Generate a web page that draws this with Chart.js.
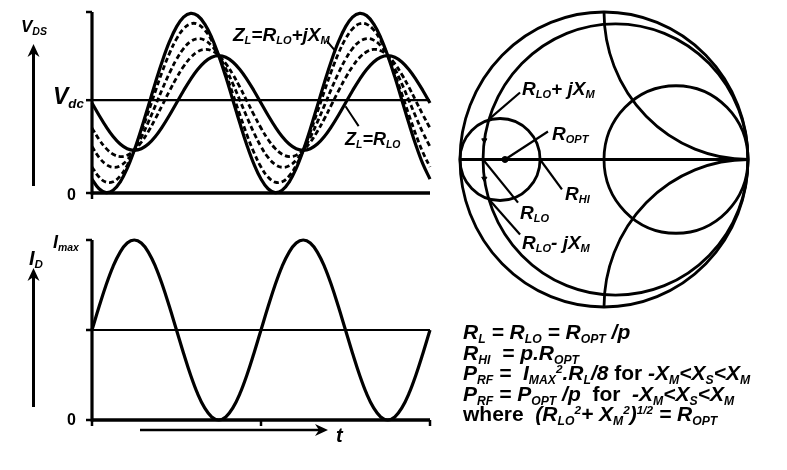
<!DOCTYPE html>
<html><head><meta charset="utf-8">
<script src="https://cdn.jsdelivr.net/npm/chart.js@4.4.1/dist/chart.umd.min.js"></script>
<style>
html,body{margin:0;padding:0;background:#fff;}
#wrap{position:relative;width:787px;height:470px;overflow:hidden;font-family:"Liberation Sans",Arial,sans-serif;font-weight:bold;font-style:italic;color:#000;}
canvas{position:absolute;}
.lb{position:absolute;white-space:nowrap;line-height:1;}
.lb sub{font-size:0.58em;vertical-align:-0.3em;line-height:0;}
.lb sup{font-size:0.56em;vertical-align:0.6em;line-height:0;}
.up{font-style:normal;}
svg{position:absolute;left:0;top:0;}
</style></head>
<body>
<div id="wrap">
<canvas id="cV" width="440" height="205" style="left:0;top:0"></canvas>
<canvas id="cI" width="440" height="230" style="left:0;top:210px"></canvas>
<canvas id="cS" width="347" height="320" style="left:440px;top:0"></canvas>
<svg width="787" height="470">
  <line x1="33.5" y1="186" x2="33.5" y2="52" stroke="#000" stroke-width="3"/>
  <polygon points="33.5,44 27.5,57 33.5,53 39.5,57" fill="#000"/>
  <line x1="33.5" y1="407" x2="33.5" y2="276" stroke="#000" stroke-width="3"/>
  <polygon points="33.5,268 27.5,281 33.5,277 39.5,281" fill="#000"/>
  <line x1="140" y1="430" x2="320" y2="430" stroke="#000" stroke-width="2.5"/>
  <polygon points="328,430 315,424 319,430 315,436" fill="#000"/>
</svg>
<div class="lb" style="left:21px;top:18px;font-size:17px">V<sub style="font-size:0.62em">DS</sub></div>
<div class="lb" style="left:53px;top:85px;font-size:23px">V<sub>dc</sub></div>
<div class="lb up" style="left:67px;top:187px;font-size:16px">0</div>
<div class="lb" style="left:233px;top:25px;font-size:19px">Z<sub>L</sub>=R<sub>LO</sub>+jX<sub>M</sub></div>
<div class="lb" style="left:345px;top:130px;font-size:18px">Z<sub>L</sub>=R<sub>LO</sub></div>
<div class="lb" style="left:29px;top:248px;font-size:20px">I<sub>D</sub></div>
<div class="lb" style="left:53px;top:233px;font-size:18px">I<sub>max</sub></div>
<div class="lb up" style="left:67px;top:412px;font-size:16px">0</div>
<div class="lb" style="left:336px;top:425px;font-size:20px">t</div>
<div class="lb" style="left:522px;top:79px;font-size:19px">R<sub>LO</sub>+ jX<sub>M</sub></div>
<div class="lb" style="left:552px;top:124px;font-size:19px">R<sub>OPT</sub></div>
<div class="lb" style="left:565px;top:184px;font-size:19px">R<sub>HI</sub></div>
<div class="lb" style="left:520px;top:203px;font-size:19px">R<sub>LO</sub></div>
<div class="lb" style="left:522px;top:233px;font-size:19px">R<sub>LO</sub>- jX<sub>M</sub></div>
<div class="lb" style="left:463px;top:322px;font-size:21px;line-height:20.5px">
R<sub>L</sub> = R<sub>LO</sub> = R<sub>OPT</sub> /p<br>
R<sub>HI</sub> &nbsp;= p.R<sub>OPT</sub><br>
P<sub>RF</sub> = &nbsp;I<sub>MAX</sub><sup>2</sup>.R<sub>L</sub>/8 <span class="up">for</span> -X<sub>M</sub>&lt;X<sub>S</sub>&lt;X<sub>M</sub><br>
P<sub>RF</sub> = P<sub>OPT</sub> /p &nbsp;<span class="up">for</span> &nbsp;-X<sub>M</sub>&lt;X<sub>S</sub>&lt;X<sub>M</sub><br>
<span class="up">where</span> &nbsp;(R<sub>LO</sub><sup>2</sup>+ X<sub>M</sub><sup>2</sup>)<sup>1/2</sup> = R<sub>OPT</sub>
</div>
</div>
<script>
// ---- data ----
const timeDeg = [0,15,30,45,60,75,90,105,120,135,150,165,180,195,210,225,240,255,270,285,300,315,330,345,360,375,390,405,420,435,450,465,480,495,510,525,540,555,570,585,600,615,630,645,660,675,690,705,720];
// V_DS (units of Vdc) for Z_L = R_LO, three intermediate reactances, and Z_L = R_LO + jX_M
const vdsRLo = [0.97,0.838,0.715,0.609,0.528,0.477,0.46,0.477,0.528,0.609,0.715,0.838,0.97,1.102,1.225,1.331,1.412,1.463,1.48,1.463,1.412,1.331,1.225,1.102,0.97,0.838,0.715,0.609,0.528,0.477,0.46,0.477,0.528,0.609,0.715,0.838,0.97,1.102,1.225,1.331,1.412,1.463,1.48,1.463,1.412,1.331,1.225,1.102,0.97];
const vdsX1 = [0.70,0.577,0.481,0.418,0.393,0.407,0.46,0.547,0.663,0.80,0.949,1.099,1.24,1.363,1.459,1.522,1.547,1.533,1.48,1.393,1.277,1.14,0.991,0.841,0.70,0.577,0.481,0.418,0.393,0.407,0.46,0.547,0.663,0.80,0.949,1.099,1.24,1.363,1.459,1.522,1.547,1.533,1.48,1.393,1.277,1.14,0.991,0.841,0.70];
const vdsX2 = [0.50,0.384,0.308,0.277,0.293,0.355,0.46,0.599,0.763,0.941,1.122,1.292,1.44,1.556,1.632,1.663,1.647,1.585,1.48,1.341,1.177,0.999,0.818,0.648,0.50,0.384,0.308,0.277,0.293,0.355,0.46,0.599,0.763,0.941,1.122,1.292,1.44,1.556,1.632,1.663,1.647,1.585,1.48,1.341,1.177,0.999,0.818,0.648,0.50];
const vdsX3 = [0.28,0.172,0.117,0.121,0.183,0.298,0.46,0.656,0.873,1.097,1.313,1.504,1.66,1.768,1.823,1.819,1.757,1.642,1.48,1.284,1.067,0.843,0.627,0.436,0.28,0.172,0.117,0.121,0.183,0.298,0.46,0.656,0.873,1.097,1.313,1.504,1.66,1.768,1.823,1.819,1.757,1.642,1.48,1.284,1.067,0.843,0.627,0.436,0.28];
const vdsXM = [0.15,0.046,0.005,0.029,0.118,0.265,0.46,0.689,0.938,1.189,1.425,1.63,1.79,1.894,1.935,1.911,1.822,1.675,1.48,1.251,1.002,0.751,0.515,0.31,0.15,0.046,0.005,0.029,0.118,0.265,0.46,0.689,0.938,1.189,1.425,1.63,1.79,1.894,1.935,1.911,1.822,1.675,1.48,1.251,1.002,0.751,0.515,0.31,0.15];
// I_D (units of Imax)
const idCurrent = [0.5,0.629,0.75,0.854,0.933,0.983,1,0.983,0.933,0.854,0.75,0.629,0.5,0.371,0.25,0.146,0.067,0.017,0,0.017,0.067,0.146,0.25,0.371,0.5,0.629,0.75,0.854,0.933,0.983,1,0.983,0.933,0.854,0.75,0.629,0.5,0.371,0.25,0.146,0.067,0.017,0,0.017,0.067,0.146,0.25,0.371,0.5];
const vdsTicks = [0, 1, 1.95];      // 0, Vdc, top of axis
const idTicks = [0, 0.5, 1];        // 0, mid, Imax
const timeTicksTop = [0];
const timeTicksBottom = [0, 360, 720];
const vdcLevel = [1, 1];
const idMidLevel = [0.5, 0.5];
const timeSpan = [0, 720];
// leader lines for the waveform labels [t, V]
const leaderZjx = [[500, 1.64], [519, 1.525]];
const leaderZr = [[540, 0.935], [568, 0.72]];
// Smith chart (reflection-coefficient plane)
const smithResistance = [0.087, 1];
const smithReactance = [1, -1];
const loadPullCenter = [-0.722, 0];
const loadPullRadius = [0.278];
const rOptPoint = [-0.6875, 0];
const reactanceMarks = [[-0.831, 0.13], [-0.831, -0.13]];
const smithLeaders = [
  [[-0.79, 0.28], [-0.583, 0.454]],   // R_LO + jX_M
  [[-0.6875, 0], [-0.389, 0.19]],     // R_OPT
  [[-0.444, 0], [-0.292, -0.203]],    // R_HI
  [[-0.84, 0], [-0.597, -0.292]],     // R_LO
  [[-0.79, -0.28], [-0.583, -0.508]]  // R_LO - jX_M
];

const pts = (xs, ys) => xs.map((x, i) => ({x, y: ys[i]}));
const pair = p => p.map(q => ({x: q[0], y: q[1]}));

const waveAxes = {
  id: 'waveAxes',
  afterDatasetsDraw(chart, args, o) {
    const {ctx, scales: {x, y}} = chart;
    ctx.save();
    ctx.strokeStyle = '#000';
    ctx.lineCap = 'butt';
    const x0 = x.getPixelForValue(timeSpan[0]);
    const x1 = x.getPixelForValue(timeSpan[1]);
    const y0 = y.getPixelForValue(0);
    const yTop = y.getPixelForValue(o.yTicks[o.yTicks.length - 1]);
    ctx.lineWidth = 3.2;
    ctx.beginPath(); ctx.moveTo(x0, y0 + 1.5); ctx.lineTo(x0, yTop); ctx.stroke();
    ctx.lineWidth = 3.5;
    ctx.beginPath(); ctx.moveTo(x0, y0); ctx.lineTo(x1, y0); ctx.stroke();
    ctx.lineWidth = 2.5;
    o.yTicks.forEach(v => { const p = y.getPixelForValue(v); ctx.beginPath(); ctx.moveTo(x0 - 6, p); ctx.lineTo(x0, p); ctx.stroke(); });
    o.xTicks.forEach(v => { const p = x.getPixelForValue(v); ctx.beginPath(); ctx.moveTo(p, y0); ctx.lineTo(p, y0 + 6); ctx.stroke(); });
    ctx.restore();
  }
};

function lineDs(data, w, dash) {
  return {data, borderColor: '#000', borderWidth: w, borderDash: dash || [], pointRadius: 0, tension: 0.4, clip: false, fill: false};
}

const baseOpts = (pad, ymax, pluginOpts) => ({
  responsive: false, animation: false, devicePixelRatio: 1,
  layout: {padding: pad},
  plugins: {legend: {display: false}, tooltip: {enabled: false}, waveAxes: pluginOpts},
  scales: {
    x: {type: 'linear', min: timeSpan[0], max: timeSpan[1], display: false},
    y: {type: 'linear', min: 0, max: ymax, display: false}
  }
});

new Chart(document.getElementById('cV'), {
  type: 'line',
  data: {datasets: [
    lineDs(pts(timeSpan, vdcLevel), 2.2),
    lineDs(pts(timeDeg, vdsX1), 2.8, [5, 3]),
    lineDs(pts(timeDeg, vdsX2), 2.8, [5, 3]),
    lineDs(pts(timeDeg, vdsX3), 2.8, [5, 3]),
    lineDs(pts(timeDeg, vdsRLo), 3.2),
    lineDs(pts(timeDeg, vdsXM), 3.2),
    lineDs(pair(leaderZjx), 2),
    lineDs(pair(leaderZr), 2)
  ]},
  options: baseOpts({left: 92, right: 10, top: 12, bottom: 12}, vdsTicks[2], {yTicks: vdsTicks, xTicks: timeTicksTop}),
  plugins: [waveAxes]
});

new Chart(document.getElementById('cI'), {
  type: 'line',
  data: {datasets: [
    lineDs(pts(timeSpan, idMidLevel), 2.2),
    lineDs(pts(timeDeg, idCurrent), 3.2)
  ]},
  options: baseOpts({left: 92, right: 10, top: 30, bottom: 20}, 1, {yTicks: idTicks, xTicks: timeTicksBottom}),
  plugins: [waveAxes]
});

const smithGrid = {
  id: 'smithGrid',
  beforeDatasetsDraw(chart) {
    const {ctx, scales: {x, y}} = chart;
    const ell = (gx, gy, r) => {
      ctx.beginPath();
      ctx.ellipse(x.getPixelForValue(gx), y.getPixelForValue(gy),
        Math.abs(x.getPixelForValue(gx + r) - x.getPixelForValue(gx)),
        Math.abs(y.getPixelForValue(gy + r) - y.getPixelForValue(gy)), 0, 0, Math.PI * 2);
    };
    ctx.save();
    ctx.strokeStyle = '#000';
    ctx.lineWidth = 2.8;
    ell(0, 0, 1); ctx.stroke();
    smithResistance.forEach(r => { ell(r / (1 + r), 0, 1 / (1 + r)); ctx.stroke(); });
    ell(loadPullCenter[0], loadPullCenter[1], loadPullRadius[0]); ctx.stroke();
    ctx.save();
    ell(0, 0, 1); ctx.clip();
    smithReactance.forEach(xv => { ell(1, 1 / xv, 1 / Math.abs(xv)); ctx.stroke(); });
    ctx.restore();
    ctx.restore();
  }
};

const smithDatasets = [
  {type: 'scatter', showLine: true, data: [{x: -1, y: 0}, {x: 1, y: 0}], borderColor: '#000', borderWidth: 2.8, pointRadius: 0, clip: false},
  ...smithLeaders.map(l => ({type: 'scatter', showLine: true, data: pair(l), borderColor: '#000', borderWidth: 2.2, pointRadius: 0, clip: false})),
  {type: 'scatter', data: [{x: rOptPoint[0], y: rOptPoint[1]}], pointRadius: 3, backgroundColor: '#000', borderColor: '#000', clip: false},
  {type: 'scatter', data: pair(reactanceMarks), pointStyle: 'triangle', rotation: 180, pointRadius: 3, backgroundColor: '#000', borderColor: '#000', clip: false}
];

new Chart(document.getElementById('cS'), {
  type: 'scatter',
  data: {datasets: smithDatasets},
  options: {
    responsive: false, animation: false, devicePixelRatio: 1,
    layout: {padding: {left: 20, right: 39, top: 12, bottom: 13}},
    plugins: {legend: {display: false}, tooltip: {enabled: false}},
    scales: {x: {type: 'linear', min: -1, max: 1, display: false}, y: {type: 'linear', min: -1, max: 1, display: false}}
  },
  plugins: [smithGrid]
});
</script>
</body></html>
